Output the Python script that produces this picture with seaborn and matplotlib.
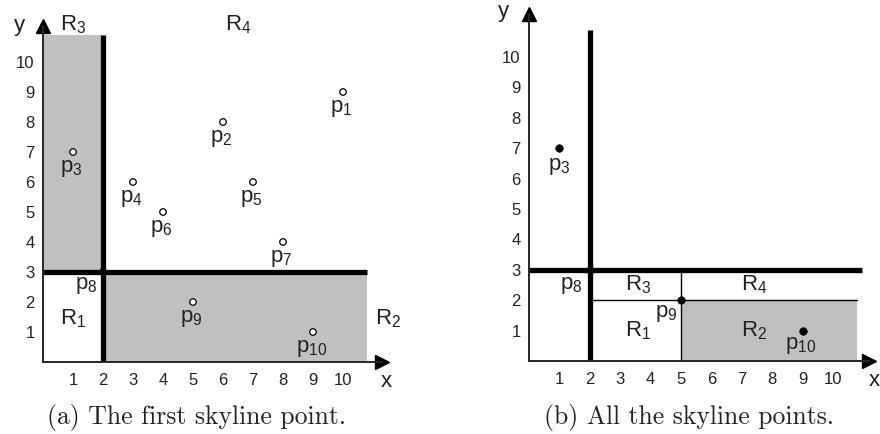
import matplotlib
matplotlib.use("Agg")
import matplotlib.pyplot as plt
import seaborn as sns
import pandas as pd

# points of the example (a)
pt_names = ["p1", "p2", "p3", "p4", "p5", "p6", "p7", "p8", "p9", "p10"]
pt_x = [10, 6, 1, 3, 7, 4, 8, 2, 5, 9]
pt_y = [9, 8, 7, 6, 6, 5, 4, 3, 2, 1]

# skyline points shown in (b)
sky_names = ["p3", "p8", "p9", "p10"]
sky_x = [1, 2, 5, 9]
sky_y = [7, 3, 2, 1]

ticks = [1, 2, 3, 4, 5, 6, 7, 8, 9, 10]

captions = ["(a) The first skyline point.", "(b) All the skyline points."]

sns.set_style("white")
plt.rcParams["font.family"] = ["Liberation Sans", "DejaVu Sans"]
plt.rcParams["mathtext.default"] = "regular"

TXT = "#222222"
GRAY = "#c0c0c0"


def sub(name):
    return name[0] + "$_{" + name[1:] + "}$"


def setup(ax, x0px, y0px, unit, left, right):
    # place data origin at the given pixel position of the figure
    W, H = 880, 434
    ax.set_position([left / W, 0, (right - left) / W, 1])
    ax.set_xlim((left - x0px) / unit, (right - x0px) / unit)
    ax.set_ylim((y0px - H) / unit, y0px / unit)
    for s in ["top", "right"]:
        ax.spines[s].set_visible(False)
    ax.spines["left"].set_position(("data", 0))
    ax.spines["bottom"].set_position(("data", 0))
    ax.spines["left"].set_linewidth(1.4)
    ax.spines["bottom"].set_linewidth(1.4)
    ax.set_xticks(ticks)
    ax.set_yticks(ticks)
    ax.tick_params(axis="x", direction="in", length=7, width=1.1,
                   labelsize=12, labelcolor=TXT, pad=8)
    ax.tick_params(axis="y", direction="inout", length=8, width=1.1,
                   labelsize=12, labelcolor=TXT, pad=2)


fig = plt.figure(figsize=(8.8, 4.34), dpi=100)

# ---------------- panel (a) ----------------
ax = fig.add_axes([0, 0, 0.5, 1])
setup(ax, 43, 362, 30.0, 0, 440)
xmax, ymax = 11.3, 11.2
ax.spines["bottom"].set_bounds(0, xmax)
ax.spines["left"].set_bounds(0, ymax)
ax.plot([xmax], [0], marker=">", ms=10, color="black", clip_on=False)
ax.plot([0], [ymax], marker="^", ms=10, color="black", clip_on=False)

ax.fill_between([0, 2], 3, 10.9, color=GRAY, lw=0)
ax.fill_between([2, 10.8], 0, 3, color=GRAY, lw=0)
ax.plot([2, 2], [0, 10.9], color="black", lw=3.8, solid_capstyle="butt")
ax.plot([0, 10.8], [3, 3], color="black", lw=3.8, solid_capstyle="butt")

df_a = pd.DataFrame({"x": pt_x, "y": pt_y, "name": pt_names})
df_a["face"] = ["black" if n == "p8" else "white" for n in pt_names]
sns.scatterplot(data=df_a, x="x", y="y", ax=ax, marker="o", s=22,
                c=df_a["face"], edgecolor="black", linewidth=0.9,
                zorder=5, legend=False)
for n, x, y in zip(pt_names, pt_x, pt_y):
    if n == "p8":
        ax.text(x - 0.55, y - 0.45, sub(n), ha="center", va="center",
                fontsize=16, color=TXT)
    else:
        ax.text(x - 0.05, y - 0.55, sub(n), ha="center", va="center",
                fontsize=16, color=TXT)

ax.text(1.0, 11.25, sub("R3"), ha="center", va="center", fontsize=16, color=TXT)
ax.text(6.5, 11.25, sub("R4"), ha="center", va="center", fontsize=16, color=TXT)
ax.text(1.0, 1.45, sub("R1"), ha="center", va="center", fontsize=16, color=TXT)
ax.text(11.5, 1.45, sub("R2"), ha="center", va="center", fontsize=16, color=TXT)
ax.text(11.45, -0.65, "x", ha="center", va="center", fontsize=16, color=TXT)
ax.text(-0.8, 11.2, "y", ha="center", va="center", fontsize=16, color=TXT)
ax.text(5.1, -1.85, captions[0], ha="center", va="center", fontsize=18.5,
        family=["cmr10", "DejaVu Serif"], color=TXT)
ax.set_xlabel("")
ax.set_ylabel("")

# ---------------- panel (b) ----------------
bx = fig.add_axes([0.5, 0, 0.5, 1])
setup(bx, 529, 361, 30.4, 440, 880)
xmax, ymax = 11.2, 11.4
bx.spines["bottom"].set_bounds(0, xmax)
bx.spines["left"].set_bounds(0, ymax)
bx.plot([xmax], [0], marker=">", ms=10, color="black", clip_on=False)
bx.plot([0], [ymax], marker="^", ms=10, color="black", clip_on=False)

bx.fill_between([5, 10.8], 0, 2, color=GRAY, lw=0)
bx.plot([2, 10.8], [2, 2], color="black", lw=1.0)
bx.plot([5, 5], [0, 3], color="black", lw=1.0)
bx.plot([2, 2], [0, 10.9], color="black", lw=3.8, solid_capstyle="butt")
bx.plot([0, 10.95], [3, 3], color="black", lw=3.8, solid_capstyle="butt")

df_b = pd.DataFrame({"x": sky_x, "y": sky_y, "name": sky_names})
sns.scatterplot(data=df_b, x="x", y="y", ax=bx, marker="o", s=30,
                color="black", edgecolor="black", zorder=5, legend=False)
offs = {"p3": (0.0, -0.6), "p8": (-0.6, -0.5), "p9": (-0.5, -0.45),
        "p10": (-0.05, -0.5)}
for n, x, y in zip(sky_names, sky_x, sky_y):
    dx, dy = offs[n]
    bx.text(x + dx, y + dy, sub(n), ha="center", va="center", fontsize=16,
            color=TXT)

bx.text(3.6, 2.5, sub("R3"), ha="center", va="center", fontsize=16, color=TXT)
bx.text(7.4, 2.5, sub("R4"), ha="center", va="center", fontsize=16, color=TXT)
bx.text(3.6, 1.0, sub("R1"), ha="center", va="center", fontsize=16, color=TXT)
bx.text(7.4, 1.0, sub("R2"), ha="center", va="center", fontsize=16, color=TXT)
bx.text(11.35, -0.65, "x", ha="center", va="center", fontsize=16, color=TXT)
bx.text(-0.85, 11.5, "y", ha="center", va="center", fontsize=16, color=TXT)
bx.text(5.25, -1.85, captions[1], ha="center", va="center", fontsize=18.5,
        family=["cmr10", "DejaVu Serif"], color=TXT)
bx.set_xlabel("")
bx.set_ylabel("")

fig.savefig("out.png", dpi=100)
